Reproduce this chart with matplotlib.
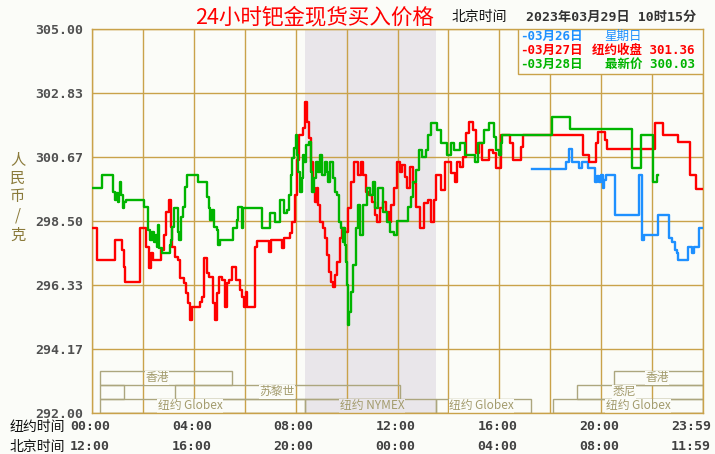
import matplotlib

matplotlib.use("Agg")
import matplotlib.pyplot as plt
from matplotlib.patches import Rectangle

W, H = 715, 454
BG, SHADE, GRID = "#fbfcf8", "#e9e6ea", "#c9a24a"
SESS = "#aca67e"
RED, GREEN, BLUE = "#ff0000", "#00b400", "#1e90ff"
CJK = ["Noto Sans CJK SC", "DejaVu Sans"]
MONO = ["DejaVu Sans Mono", "Noto Sans CJK SC"]

# y axis
YTICKS = [292.00, 294.17, 296.33, 298.50, 300.67, 302.83, 305.00]

# bottom time labels (hour position on the New York clock)
HOURS = [0, 4, 8, 12, 16, 20, 23.6]
NY_LABELS = ["00:00", "04:00", "08:00", "12:00", "16:00", "20:00", "23:59"]
BJ_LABELS = ["12:00", "16:00", "20:00", "00:00", "04:00", "08:00", "11:59"]

# NYMEX trading window (shaded)
NYMEX = (8.37, 13.5)

# 03/27 (red) -- hour, price
RED_H = [0.00, 0.20, 0.90, 1.18, 1.26, 1.30, 1.89, 2.12, 2.24, 2.32, 2.40, 2.71, 2.83,
         2.91, 3.02, 3.10, 3.14, 3.26, 3.38, 3.46, 3.61, 3.69, 3.77, 3.85, 3.93, 4.24,
         4.32, 4.40, 4.52, 4.60, 4.75, 4.83, 4.91, 4.99, 5.11, 5.22, 5.30, 5.38, 5.50,
         5.66, 5.81, 5.89, 5.97, 6.05, 6.09, 6.40, 6.48, 6.95, 7.03, 7.46, 7.54, 7.78,
         7.86, 7.97, 8.05, 8.13, 8.29, 8.37, 8.45, 8.52, 8.60, 8.68, 8.76, 8.84, 8.88,
         8.96, 9.07, 9.15, 9.23, 9.31, 9.39, 9.47, 9.55, 9.62, 9.74, 9.82, 9.94, 10.06,
         10.17, 10.29, 10.45, 10.57, 10.64, 10.76, 10.88, 11.00, 11.12, 11.19, 11.31,
         11.43, 11.55, 11.67, 11.74, 11.86, 11.98, 12.10, 12.18, 12.29, 12.37, 12.49,
         12.61, 12.73, 12.88, 13.04, 13.20, 13.32, 13.43, 13.51, 13.71, 13.87, 14.10,
         14.26, 14.34, 14.46, 14.57, 14.69, 14.81, 14.97, 15.08, 15.20, 15.32, 15.59,
         15.75, 15.87, 16.07, 16.42, 16.54, 16.85, 16.93, 19.29, 19.52, 19.80, 19.88,
         20.15, 20.23, 22.11, 22.43, 23.02, 23.49, 23.73, 24.00]
RED_P = [298.26, 297.18, 297.86, 297.52, 296.94, 296.43, 298.26, 297.62, 296.91, 297.42,
         297.18, 297.52, 298.02, 298.80, 299.21, 298.30, 297.62, 297.28, 297.18, 296.57,
         296.40, 296.06, 295.72, 295.15, 295.59, 295.76, 295.93, 297.25, 296.74, 296.60,
         295.72, 295.15, 296.06, 296.60, 296.50, 295.59, 296.40, 296.50, 296.94, 296.50,
         296.16, 295.93, 295.59, 296.09, 295.59, 297.62, 297.82, 297.45, 297.86, 297.58,
         297.92, 298.09, 298.46, 299.38, 300.56, 301.41, 301.65, 302.53, 301.85, 301.31,
         300.50, 299.62, 299.14, 299.62, 299.04, 298.46, 298.26, 297.92, 297.35, 296.77,
         296.43, 296.26, 296.67, 297.11, 297.92, 298.26, 298.13, 298.94, 299.82, 300.50,
         300.06, 300.50, 300.06, 299.48, 299.38, 299.14, 298.70, 298.46, 298.94, 299.14,
         298.80, 298.46, 299.04, 299.62, 300.50, 300.16, 300.39, 299.99, 299.62, 300.33,
         299.78, 298.97, 298.26, 299.11, 299.21, 298.46, 299.21, 300.06, 299.55, 300.50,
         300.12, 299.82, 300.50, 300.33, 300.67, 301.48, 301.85, 301.58, 300.80, 301.14,
         300.56, 300.90, 300.80, 300.29, 301.41, 301.14, 300.56, 301.00, 301.41, 300.73,
         300.50, 301.14, 301.51, 301.24, 300.94, 301.82, 301.41, 301.17, 300.06, 299.58,
         299.58]

# 03/28 (green, latest) -- hour, price
GREEN_H = [0.00, 0.39, 0.82, 0.90, 0.94, 1.02, 1.06, 1.10, 1.14, 1.22, 1.26, 1.34, 2.04,
           2.20, 2.28, 2.36, 2.44, 2.51, 2.55, 2.59, 2.63, 2.75, 3.06, 3.10, 3.14, 3.22,
           3.38, 3.42, 3.50, 3.57, 3.65, 3.73, 4.16, 4.52, 4.60, 4.64, 4.71, 4.79, 4.91,
           4.95, 5.03, 5.54, 5.70, 5.74, 5.89, 5.93, 6.68, 6.99, 7.19, 7.38, 7.54, 7.66,
           7.74, 7.82, 7.86, 7.93, 8.01, 8.05, 8.09, 8.17, 8.25, 8.29, 8.33, 8.41, 8.52,
           8.60, 8.64, 8.72, 8.80, 8.88, 8.96, 9.03, 9.15, 9.23, 9.27, 9.35, 9.47, 9.55,
           9.62, 9.70, 9.78, 9.86, 9.90, 9.94, 9.98, 10.02, 10.06, 10.09, 10.17, 10.25,
           10.37, 10.45, 10.53, 10.64, 10.80, 10.92, 11.04, 11.12, 11.23, 11.43, 11.59,
           11.71, 11.86, 11.98, 12.41, 12.53, 12.61, 12.73, 12.84, 12.96, 13.12, 13.20,
           13.32, 13.55, 13.71, 13.94, 14.10, 14.22, 14.46, 14.65, 15.04, 15.16, 15.40,
           15.59, 15.79, 15.87, 15.99, 16.07, 16.10, 18.07, 18.78, 21.21, 21.57, 22.04,
           22.19, 22.23]
GREEN_P = [299.62, 300.06, 299.48, 299.21, 299.45, 299.14, 299.45, 299.82, 299.38, 298.94,
           299.14, 299.21, 298.97, 298.19, 297.86, 298.13, 297.79, 298.02, 297.62, 298.36,
           297.58, 297.42, 297.69, 297.86, 298.30, 298.94, 298.13, 297.86, 298.63, 298.97,
           299.65, 300.06, 299.82, 299.31, 298.94, 298.53, 298.87, 298.30, 298.19, 297.69,
           297.86, 298.26, 298.53, 298.97, 298.26, 298.94, 298.26, 298.77, 298.46, 299.21,
           298.77, 298.87, 299.38, 300.06, 300.63, 300.97, 301.41, 300.73, 300.16, 299.48,
           299.95, 300.73, 300.50, 301.07, 301.17, 300.16, 299.48, 299.95, 300.50, 300.16,
           300.73, 300.06, 300.50, 300.16, 299.82, 300.50, 299.95, 299.48, 299.38, 298.46,
           298.26, 297.79, 298.26, 297.69, 297.11, 296.33, 294.98, 295.42, 296.09, 297.01,
           298.26, 299.04, 298.02, 299.04, 299.62, 299.38, 299.82, 298.94, 299.62, 298.80,
           298.46, 298.13, 298.02, 298.50, 298.97, 299.31, 299.82, 300.22, 300.90, 300.67,
           300.90, 301.41, 301.82, 301.58, 301.14, 300.73, 301.14, 300.90, 301.14, 300.73,
           300.50, 301.14, 301.58, 301.82, 301.34, 300.90, 300.73, 301.14, 301.41, 302.02,
           301.61, 300.29, 301.41, 299.82, 300.06, 300.06]

# 03/26 (blue, Sunday evening only) -- hour, price
BLUE_H = [17.28, 18.62, 18.74, 18.85, 19.13, 19.25, 19.48, 19.76, 19.84, 19.92, 19.99,
          20.07, 20.11, 20.19, 20.54, 21.49, 21.60, 21.68, 22.23, 22.67, 22.78, 22.90,
          22.98, 23.02, 23.41, 23.57, 23.65, 23.85, 24.00]
BLUE_P = [300.26, 300.50, 300.94, 300.50, 300.29, 300.50, 300.29, 299.82, 300.02, 299.82,
          300.06, 299.62, 299.89, 300.06, 298.70, 300.06, 297.86, 298.02, 298.70, 297.92,
          297.79, 297.52, 297.42, 297.18, 297.62, 297.42, 297.62, 298.26, 298.26]

# trading sessions along the bottom: name, start hour, end hour, row, label hour
SESSIONS = [
    ("香港", 0.31, 5.5, 0, 2.55),
    ("", 0.31, 1.26, 1, None),
    ("苏黎世", 3.26, 12.1, 1, 7.27),
    ("纽约 Globex", 0.31, 8.37, 2, 3.85),
    ("纽约 NYMEX", 8.37, 13.5, 2, 11.0),
    ("纽约 Globex", 13.5, 17.25, 2, 15.3),
    ("悉尼", 19.05, 24.0, 1, 20.9),
    ("纽约 Globex", 18.1, 24.0, 2, 21.45),
    ("香港", 20.5, 24.0, 0, 22.2),
]
ROW_EDGES = [293.42, 292.96, 292.48, 292.0]

LEGEND = [("-03月26日", "星期日", BLUE), ("-03月27日", "纽约收盘 301.36", RED),
          ("-03月28日", "最新价 300.03", GREEN)]


def fx(x):
    return x / W


def fy(y):
    return 1 - y / H


fig = plt.figure(figsize=(W / 100, H / 100), dpi=100, facecolor=BG)
ax = fig.add_axes([fx(92), fy(413), 611 / W, 384 / H])
ax.set_facecolor(BG)
ax.set_xlim(0, 24)
ax.set_ylim(292, 305)

ax.axvspan(*NYMEX, color=SHADE, lw=0, zorder=0)
ax.set_xticks(range(0, 25, 2))
ax.set_yticks(YTICKS)
ax.set_yticklabels([f"{v:.2f}" for v in YTICKS], family="DejaVu Sans Mono",
                   fontweight="bold", fontsize=9.5, color="#505050")
ax.tick_params(length=0, pad=6, labelbottom=False)
ax.grid(color=GRID, lw=1.0, zorder=1)
ax.set_axisbelow(True)
for s in ax.spines.values():
    s.set_color(GRID)
    s.set_linewidth(1.0)

# price lines
for hs, ps, c in [(BLUE_H, BLUE_P, BLUE), (RED_H, RED_P, RED), (GREEN_H, GREEN_P, GREEN)]:
    ax.plot(hs, ps, drawstyle="steps-post", color=c, lw=1.7, zorder=3)

# session boxes
for name, h0, h1, row, hl in SESSIONS:
    top, bot = ROW_EDGES[row], ROW_EDGES[row + 1]
    ax.add_patch(Rectangle((h0, bot), h1 - h0, top - bot, fill=False, edgecolor=SESS,
                           lw=1.0, zorder=2))
    if hl is not None:
        inside = NYMEX[0] <= hl <= NYMEX[1]
        ax.text(hl, (top + bot) / 2, name, ha="center", va="center", fontsize=8.5,
                family=CJK, color="#a39b6d", zorder=2.5,
                bbox=dict(facecolor=SHADE if inside else BG, edgecolor="none", pad=0.3))

# legend box, top right
ax.add_patch(Rectangle((426 / 611, 339 / 384), 185 / 611, 45 / 384, transform=ax.transAxes,
                       facecolor=BG, edgecolor=GRID, lw=1.0, zorder=5))
for k, (d, txt, c) in enumerate(LEGEND):
    y = 36 + k * 14
    fig.text(fx(520), fy(y), d, color=c, fontsize=9, family=MONO, fontweight="bold",
             va="center", zorder=6)
    if k == 0:
        fig.text(fx(604), fy(y), txt, color=c, fontsize=9, family=MONO, va="center",
                 zorder=6)
    else:
        fig.text(fx(695), fy(y), txt, color=c, fontsize=9, family=MONO,
                 fontweight="bold", va="center", ha="right", zorder=6)

# titles
fig.text(fx(315), fy(17), "24小时钯金现货买入价格", color=RED, fontsize=15.5, family=CJK,
         ha="center", va="center")
fig.text(fx(452), fy(17), "北京时间", color="#111111", fontsize=10, family=CJK, va="center")
fig.text(fx(526), fy(17), "2023年03月29日 10时15分", color="#333333", fontsize=9.5,
         family=MONO, fontweight="bold", va="center")

# y label, stacked characters
fig.text(fx(18), fy(197), "\n".join("人民币/克"), color="#8a7a3a", fontsize=11,
         family=CJK, ha="center", va="center", linespacing=1.15)

# bottom time rows
fig.text(fx(10), fy(427), "纽约时间", color="#111111", fontsize=10, family=CJK, va="center")
fig.text(fx(10), fy(447), "北京时间", color="#111111", fontsize=10, family=CJK, va="center")
for h, ny, bj in zip(HOURS, NY_LABELS, BJ_LABELS):
    x = 92 + h * 611 / 24 - 2
    fig.text(fx(x), fy(426), ny, color="#404040", fontsize=9.5, family="DejaVu Sans Mono",
             fontweight="bold", ha="center", va="center")
    fig.text(fx(x), fy(446), bj, color="#404040", fontsize=9.5, family="DejaVu Sans Mono",
             fontweight="bold", ha="center", va="center")

fig.savefig("out.png", dpi=100, facecolor=BG)
